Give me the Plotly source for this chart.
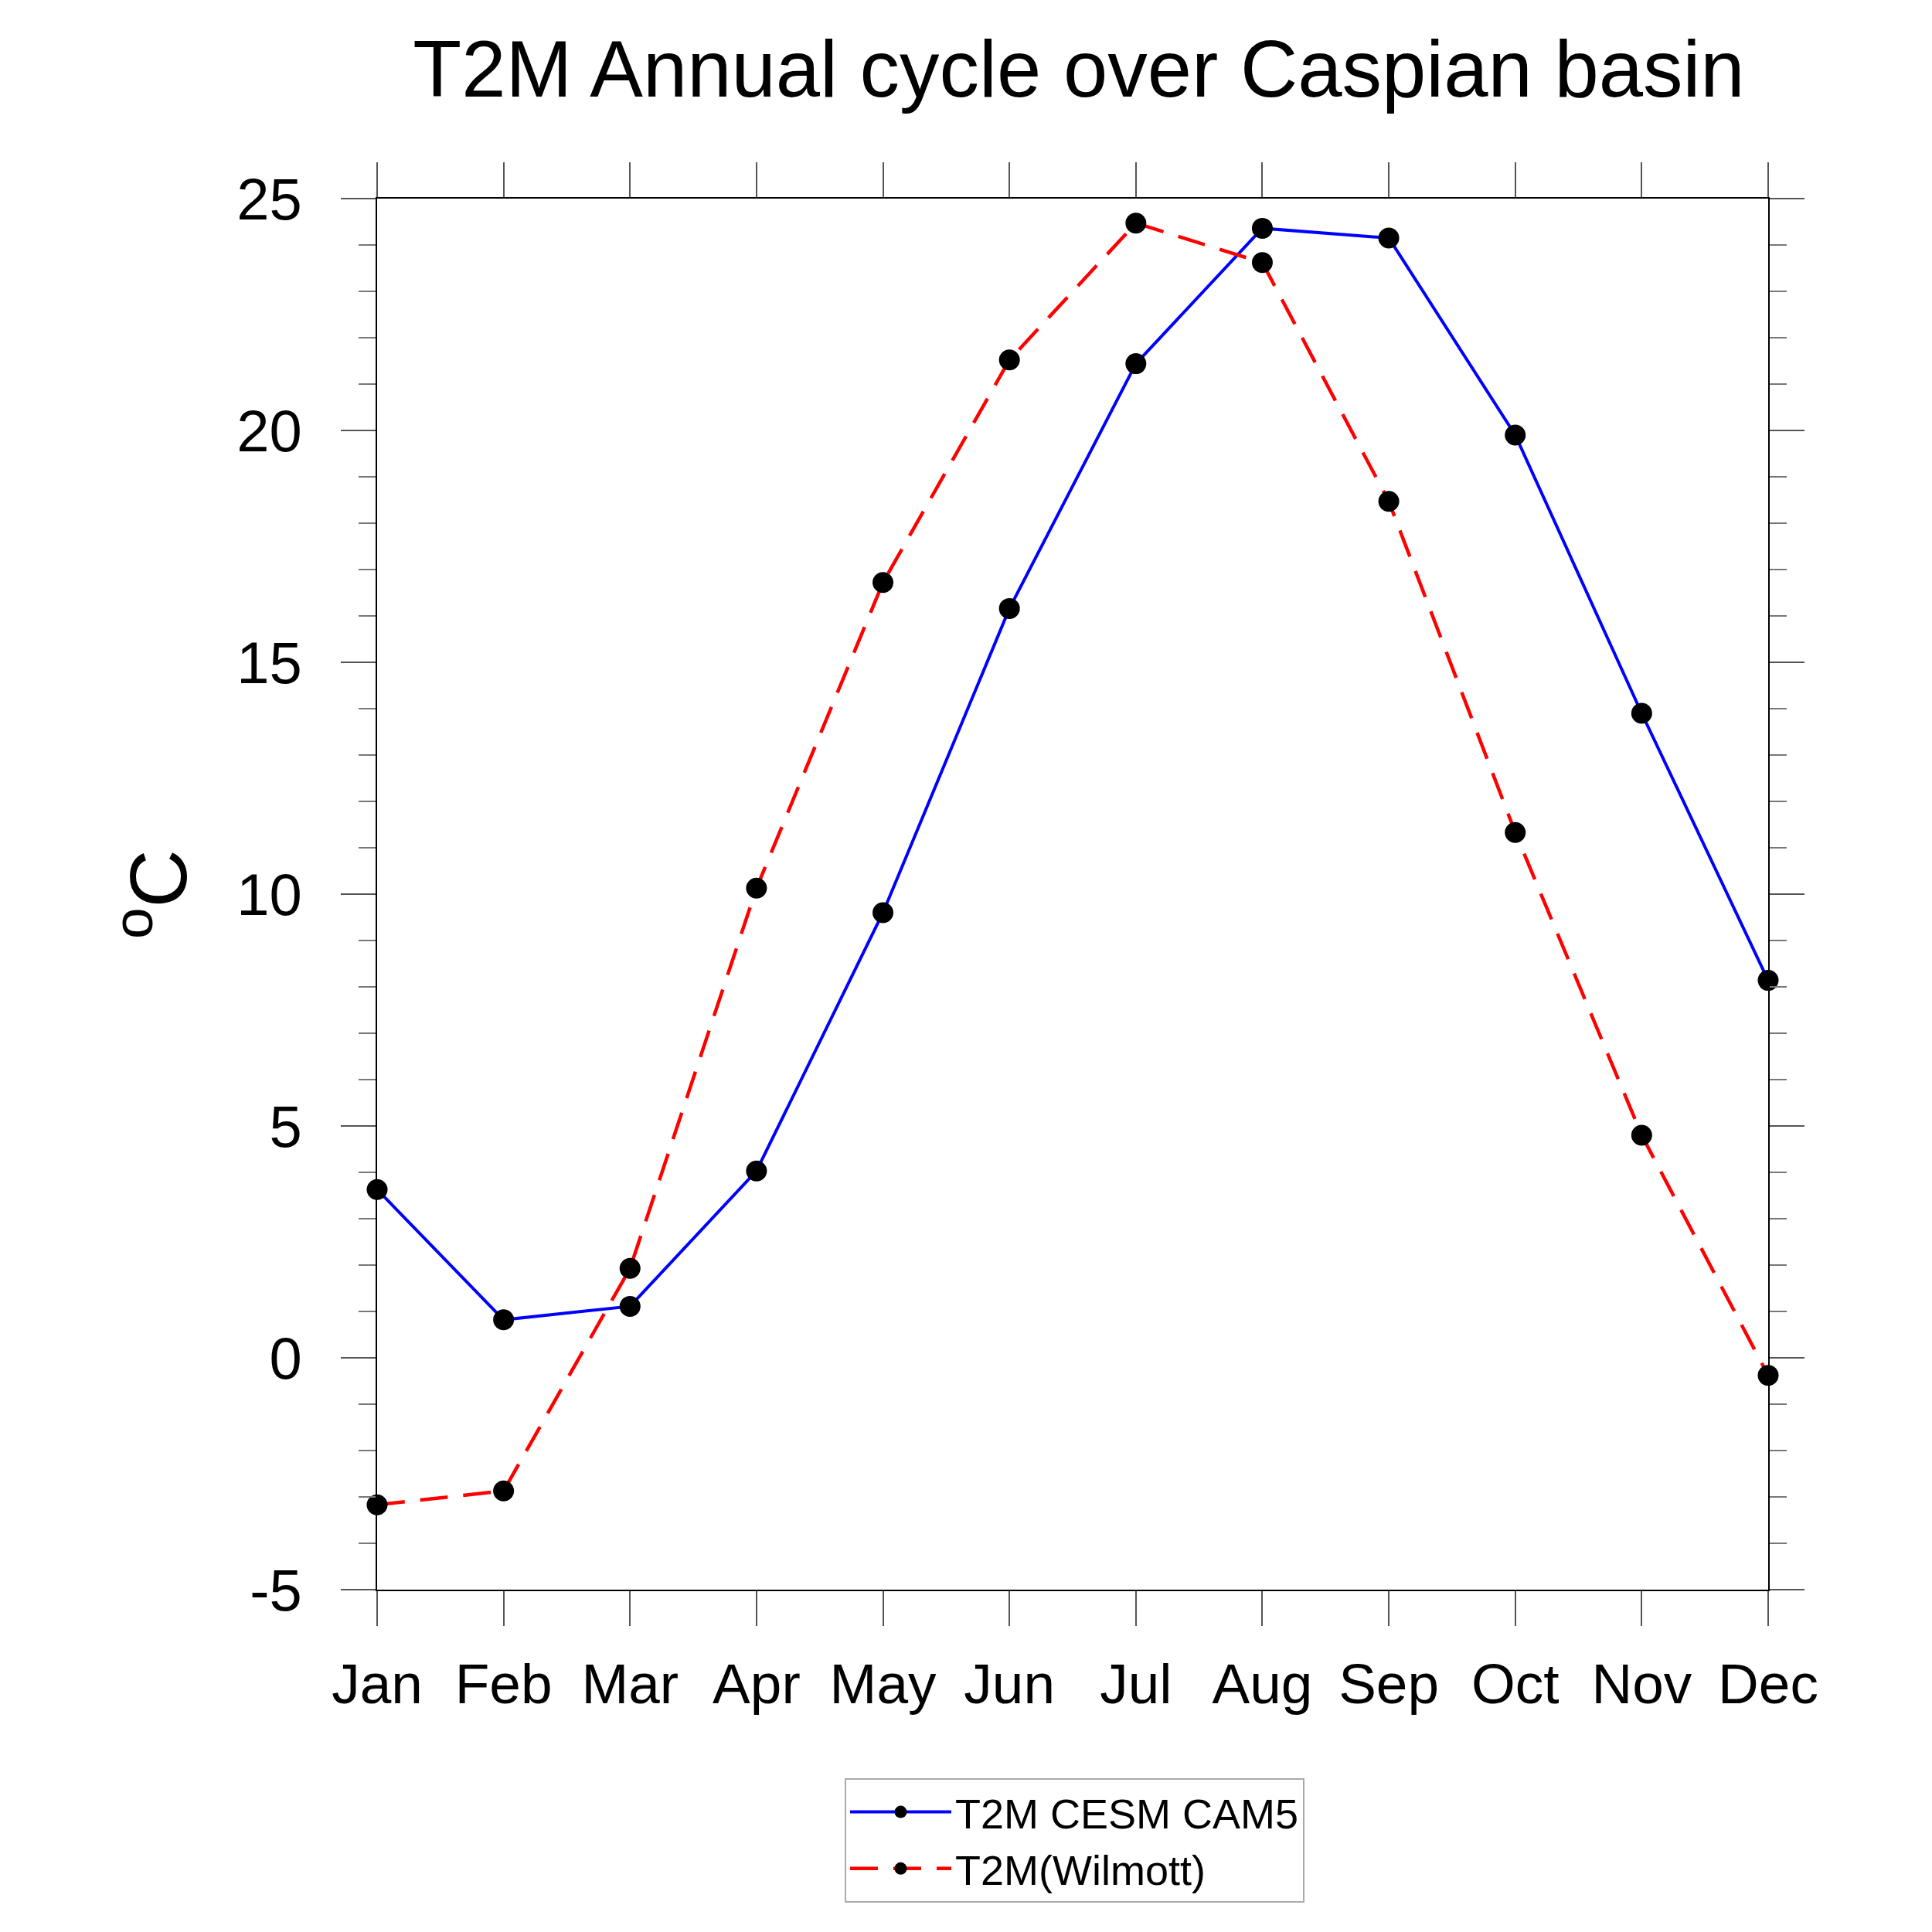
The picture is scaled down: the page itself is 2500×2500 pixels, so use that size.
import plotly.graph_objects as go

months = ["Jan", "Feb", "Mar", "Apr", "May", "Jun", "Jul", "Aug", "Sep", "Oct", "Nov", "Dec"]
month_index = list(range(1, 13))
cesm_cam5 = [3.63, 0.82, 1.11, 4.03, 9.60, 16.16, 21.44, 24.36, 24.15, 19.90, 13.90, 8.14]
wilmott = [-3.17, -2.87, 1.93, 10.13, 16.72, 21.52, 24.47, 23.62, 18.47, 11.33, 4.80, -0.38]
y_ticks = [-5, 0, 5, 10, 15, 20, 25]
y_ticktext = ["-5", "0", "5", "10", "15", "20", "25"]

W, H = 2500, 2500
# plot area in container pixels (page has an 8px body offset)
L, R, T, B = 480, 2280, 249, 2049
FONT = "Liberation Sans, Arial, Helvetica, sans-serif"

fig = go.Figure()
fig.add_trace(go.Scatter(
    x=month_index, y=cesm_cam5, mode="lines+markers", name="T2M CESM CAM5",
    line=dict(color="#0000ff", width=4),
    marker=dict(color="black", size=27, line=dict(width=0)),
    cliponaxis=False,
))
fig.add_trace(go.Scatter(
    x=month_index, y=wilmott, mode="lines+markers", name="T2M(Wilmott)",
    line=dict(color="#ff0000", width=4.5, dash="36px,20px"),
    marker=dict(color="black", size=27, line=dict(width=0)),
    cliponaxis=False,
))

axis_common = dict(
    showline=True, linecolor="black", linewidth=2, mirror="ticks",
    showgrid=False, zeroline=False, ticks="outside",
    tickcolor="#555555", tickwidth=2, ticklen=45,
)

fig.update_layout(
    width=W, height=H,
    margin=dict(l=L, r=W - R, t=T, b=H - B, pad=0),
    paper_bgcolor="white", plot_bgcolor="white",
    font=dict(family=FONT, color="black"),
    title=dict(text="T2M Annual cycle over Caspian basin",
               font=dict(family=FONT, size=103, color="black"),
               x=1388 / W, xref="container", xanchor="center",
               y=1 - 81 / H, yref="container", yanchor="middle"),
    xaxis=dict(**axis_common, range=[1, 12], tickvals=month_index, ticktext=months,
               tickfont=dict(family=FONT, size=73, color="black"),
               ticklabelstandoff=12),
    yaxis=dict(**axis_common, range=[-5, 25], tickvals=y_ticks, ticktext=y_ticktext,
               tickfont=dict(family=FONT, size=76, color="black"),
               ticklabelstandoff=35,
               minor=dict(dtick=1, ticks="outside", ticklen=22, tickcolor="#777777",
                          tickwidth=2, showgrid=False)),
    legend=dict(x=(1085 - L) / (R - L), y=(B - 2293) / (B - T), xanchor="left", yanchor="top",
                bgcolor="white", bordercolor="#aaaaaa", borderwidth=2,
                font=dict(family=FONT, size=54, color="black"),
                itemwidth=131, tracegroupgap=0),
    annotations=[dict(text="<sup>o</sup>C", textangle=-90, showarrow=False,
                      xref="paper", yref="paper", x=(189 - L) / (R - L), y=0.5,
                      xanchor="center", yanchor="middle",
                      font=dict(family=FONT, size=104, color="black"))],
)

fig.write_html("out.html")
